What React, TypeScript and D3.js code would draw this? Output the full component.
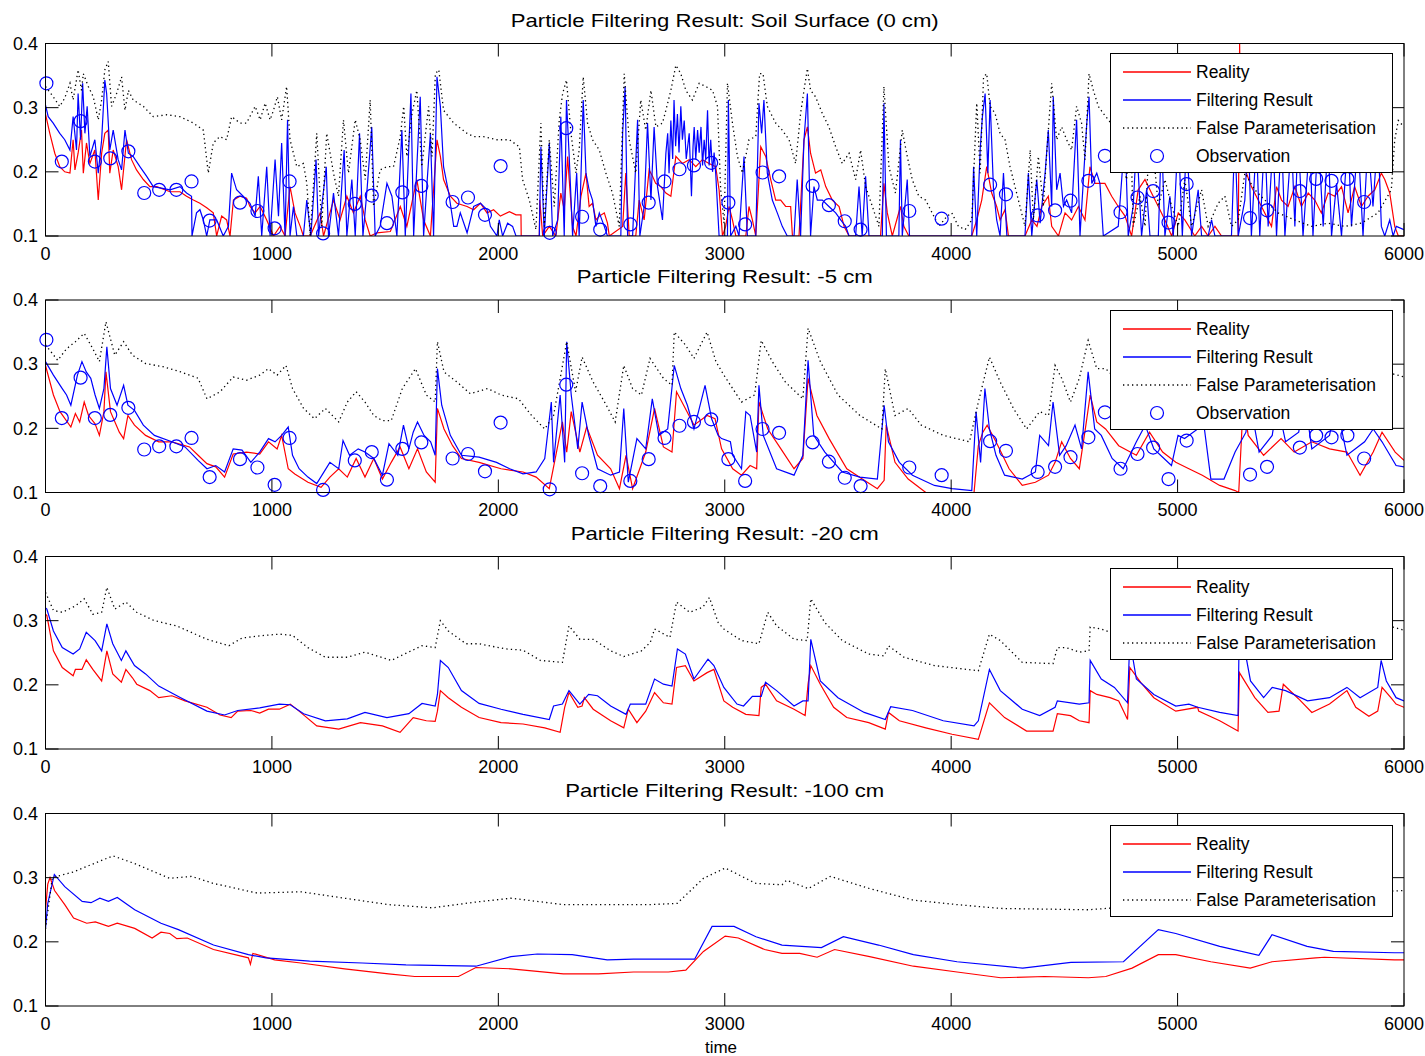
import * as d3 from "d3";
import React from "react";

// time axis and value axis ticks
const xTicks = [0, 1000, 2000, 3000, 4000, 5000, 6000];
const yTicks = [0.1, 0.2, 0.3, 0.4];

// blue circles, same in the 0 cm and -5 cm panels
const observations = [
  [4, 0.338], [72, 0.216], [155, 0.279], [218, 0.216], [286, 0.221], [366, 0.232], [436, 0.167], [502, 0.172],
  [578, 0.172], [645, 0.185], [725, 0.124], [859, 0.152], [936, 0.139], [1012, 0.112], [1078, 0.185], [1226, 0.104],
  [1366, 0.15], [1441, 0.163], [1508, 0.12], [1576, 0.168], [1660, 0.178], [1798, 0.153], [1866, 0.16], [1941, 0.133],
  [2010, 0.209], [2227, 0.105], [2300, 0.268], [2370, 0.13], [2450, 0.11], [2583, 0.118], [2664, 0.152], [2734, 0.185],
  [2800, 0.204], [2864, 0.21], [2940, 0.214], [3016, 0.152], [3090, 0.118], [3167, 0.199], [3240, 0.193], [3388, 0.178],
  [3460, 0.148], [3530, 0.123], [3600, 0.11], [3815, 0.139], [3958, 0.127], [4172, 0.18], [4242, 0.165], [4382, 0.132],
  [4459, 0.14], [4527, 0.155], [4606, 0.186], [4679, 0.225], [4748, 0.137], [4823, 0.16], [4892, 0.17], [4960, 0.121],
  [5040, 0.181], [5320, 0.128], [5395, 0.14], [5540, 0.17], [5612, 0.189], [5680, 0.186], [5750, 0.189], [5824, 0.153],
];

// Soil surface (0 cm)
const surfaceReality = [
  [0, 0.29], [19, 0.26], [41, 0.229], [63, 0.208], [85, 0.2], [108, 0.198], [122, 0.25], [130, 0.203], [144, 0.229],
  [159, 0.265], [167, 0.198], [181, 0.245], [196, 0.213], [218, 0.234], [233, 0.156], [248, 0.229], [262, 0.26],
  [277, 0.265], [284, 0.198], [299, 0.234], [321, 0.208], [336, 0.172], [358, 0.25], [380, 0.219], [402, 0.203],
  [432, 0.188], [461, 0.177], [491, 0.177], [550, 0.169], [594, 0.169], [623, 0.162], [653, 0.156], [682, 0.151],
  [712, 0.144], [741, 0.136], [756, 0.1], [778, 0.131], [800, 0.125], [815, 0.1], [830, 0.156], [859, 0.162],
  [888, 0.159], [903, 0.146], [926, 0.136], [948, 0.146], [977, 0.125], [1007, 0.1], [1036, 0.115], [1058, 0.1],
  [1080, 0.177], [1102, 0.136], [1125, 0.115], [1139, 0.1], [1169, 0.1], [1213, 0.136], [1228, 0.1], [1272, 0.156],
  [1301, 0.125], [1331, 0.162], [1360, 0.136], [1390, 0.162], [1412, 0.125], [1434, 0.1], [1464, 0.105], [1523, 0.107],
  [1567, 0.146], [1596, 0.115], [1640, 0.188], [1670, 0.125], [1700, 0.1], [1729, 0.25], [1744, 0.224], [1758, 0.188],
  [1788, 0.162], [1817, 0.151], [1862, 0.146], [1891, 0.141], [1921, 0.151], [1950, 0.136], [1979, 0.141], [2009, 0.131],
  [2049, 0.138], [2078, 0.133], [2100, 0.133], [2101, 0.1], [2181, 0.1], [2183, 0.156], [2196, 0.1], [2225, 0.115],
  [2254, 0.1], [2276, 0.167], [2291, 0.141], [2306, 0.224], [2313, 0.188], [2328, 0.115], [2343, 0.1], [2365, 0.162],
  [2387, 0.198], [2401, 0.146], [2416, 0.151], [2431, 0.125], [2446, 0.131], [2468, 0.136], [2482, 0.12], [2490, 0.1],
  [2549, 0.115], [2563, 0.198], [2578, 0.1], [2607, 0.1], [2622, 0.156], [2644, 0.125], [2666, 0.203], [2681, 0.193],
  [2695, 0.182], [2718, 0.177], [2740, 0.167], [2762, 0.162], [2784, 0.224], [2813, 0.213], [2843, 0.219], [2872, 0.208],
  [2901, 0.219], [2931, 0.213], [2960, 0.208], [2975, 0.172], [2990, 0.1], [3004, 0.115], [3019, 0.146], [3034, 0.125],
  [3049, 0.1], [3093, 0.1], [3107, 0.146], [3122, 0.125], [3137, 0.1], [3151, 0.188], [3159, 0.239], [3181, 0.224],
  [3203, 0.188], [3225, 0.156], [3247, 0.156], [3269, 0.146], [3291, 0.146], [3299, 0.1], [3328, 0.1], [3350, 0.25],
  [3365, 0.27], [3379, 0.229], [3401, 0.198], [3424, 0.203], [3446, 0.177], [3475, 0.156], [3505, 0.146], [3527, 0.115],
  [3549, 0.1], [3688, 0.1], [3703, 0.182], [3718, 0.136], [3740, 0.1], [3776, 0.146], [3791, 0.115], [3813, 0.1],
  [4091, 0.1], [4113, 0.125], [4135, 0.156], [4157, 0.208], [4179, 0.167], [4201, 0.146], [4216, 0.125], [4238, 0.141],
  [4253, 0.1], [4326, 0.1], [4356, 0.125], [4379, 0.115], [4400, 0.146], [4429, 0.162], [4444, 0.115], [4474, 0.1],
  [4503, 0.136], [4532, 0.125], [4562, 0.146], [4591, 0.125], [4613, 0.208], [4635, 0.182], [4679, 0.182], [4709, 0.162],
  [4738, 0.146], [4768, 0.131], [4797, 0.1], [4826, 0.172], [4856, 0.188], [4885, 0.167], [4915, 0.146], [4944, 0.125],
  [4974, 0.1], [5003, 0.136], [5032, 0.125], [5076, 0.1], [5106, 0.115], [5135, 0.1], [5165, 0.115], [5194, 0.1],
  [5268, 0.1], [5274, 0.4], [5280, 0.24], [5304, 0.198], [5326, 0.177], [5356, 0.156], [5385, 0.136], [5415, 0.115],
  [5437, 0.177], [5459, 0.156], [5488, 0.146], [5518, 0.177], [5547, 0.146], [5577, 0.167], [5606, 0.156], [5635, 0.136],
  [5665, 0.167], [5694, 0.162], [5724, 0.177], [5753, 0.136], [5782, 0.177], [5812, 0.146], [5841, 0.162], [5871, 0.172],
  [5900, 0.198], [5915, 0.188], [5937, 0.167], [5959, 0.115], [5975, 0.1], [6000, 0.1],
];

const surfaceFilter = [
  [0, 0.304], [12, 0.286], [34, 0.276], [63, 0.26], [85, 0.25], [108, 0.234], [122, 0.286], [137, 0.234], [144, 0.322],
  [155, 0.25], [164, 0.338], [174, 0.26], [184, 0.302], [196, 0.224], [218, 0.25], [233, 0.198], [248, 0.25], [262, 0.343],
  [270, 0.322], [284, 0.234], [299, 0.265], [321, 0.219], [336, 0.203], [351, 0.265], [366, 0.229], [387, 0.224],
  [417, 0.208], [447, 0.193], [476, 0.177], [506, 0.175], [550, 0.172], [594, 0.177], [623, 0.167], [645, 0.162],
  [647, 0.1], [667, 0.136], [682, 0.141], [697, 0.125], [712, 0.1], [726, 0.125], [756, 0.125], [785, 0.1], [808, 0.115],
  [822, 0.198], [844, 0.172], [873, 0.162], [903, 0.151], [926, 0.131], [940, 0.193], [955, 0.1], [977, 0.208], [992, 0.1],
  [1014, 0.219], [1029, 0.131], [1043, 0.245], [1058, 0.1], [1069, 0.281], [1080, 0.1], [1095, 0.146], [1110, 0.1],
  [1139, 0.1], [1154, 0.156], [1172, 0.1], [1195, 0.219], [1206, 0.1], [1220, 0.146], [1240, 0.208], [1250, 0.1],
  [1272, 0.167], [1294, 0.1], [1319, 0.234], [1331, 0.1], [1353, 0.188], [1368, 0.1], [1387, 0.26], [1402, 0.1],
  [1419, 0.167], [1441, 0.27], [1456, 0.1], [1478, 0.115], [1508, 0.182], [1530, 0.162], [1552, 0.1], [1574, 0.265],
  [1589, 0.1], [1614, 0.322], [1626, 0.1], [1640, 0.208], [1655, 0.317], [1670, 0.1], [1685, 0.182], [1700, 0.26],
  [1714, 0.1], [1729, 0.348], [1744, 0.302], [1758, 0.208], [1781, 0.167], [1803, 0.115], [1817, 0.115], [1832, 0.136],
  [1862, 0.105], [1891, 0.146], [1921, 0.151], [1950, 0.141], [1965, 0.115], [1994, 0.1], [2004, 0.125], [2019, 0.1],
  [2041, 0.12], [2063, 0.115], [2078, 0.1], [2181, 0.1], [2188, 0.239], [2203, 0.1], [2225, 0.245], [2240, 0.1],
  [2262, 0.125], [2276, 0.286], [2291, 0.1], [2301, 0.312], [2313, 0.224], [2328, 0.1], [2346, 0.198], [2357, 0.1],
  [2375, 0.312], [2387, 0.198], [2401, 0.172], [2416, 0.156], [2431, 0.115], [2446, 0.136], [2468, 0.115], [2482, 0.1],
  [2541, 0.1], [2549, 0.26], [2560, 0.333], [2571, 0.1], [2593, 0.1], [2615, 0.281], [2625, 0.1], [2644, 0.146],
  [2659, 0.276], [2674, 0.156], [2688, 0.27], [2703, 0.177], [2725, 0.125], [2740, 0.229], [2748, 0.26], [2754, 0.198],
  [2762, 0.28], [2770, 0.22], [2776, 0.312], [2783, 0.24], [2791, 0.29], [2798, 0.23], [2806, 0.302], [2813, 0.25],
  [2821, 0.28], [2830, 0.22], [2843, 0.26], [2853, 0.162], [2860, 0.24], [2865, 0.27], [2872, 0.22], [2880, 0.265],
  [2887, 0.23], [2895, 0.27], [2902, 0.21], [2909, 0.25], [2916, 0.22], [2924, 0.296], [2931, 0.21], [2938, 0.25],
  [2946, 0.2], [2953, 0.23], [2960, 0.198], [2975, 0.1], [3012, 0.1], [3016, 0.312], [3026, 0.1], [3049, 0.115],
  [3063, 0.1], [3085, 0.224], [3100, 0.1], [3137, 0.1], [3151, 0.307], [3163, 0.26], [3173, 0.312], [3188, 0.198],
  [3210, 0.156], [3232, 0.136], [3254, 0.115], [3276, 0.1], [3306, 0.1], [3320, 0.188], [3335, 0.1], [3350, 0.25],
  [3365, 0.322], [3379, 0.1], [3394, 0.177], [3409, 0.156], [3431, 0.156], [3460, 0.146], [3490, 0.136], [3512, 0.125],
  [3534, 0.115], [3549, 0.1], [3578, 0.1], [3593, 0.177], [3607, 0.1], [3622, 0.193], [3637, 0.1], [3696, 0.1],
  [3703, 0.307], [3714, 0.1], [3769, 0.1], [3776, 0.25], [3784, 0.1], [3806, 0.188], [3816, 0.1], [4091, 0.1],
  [4099, 0.208], [4113, 0.1], [4128, 0.234], [4138, 0.286], [4150, 0.322], [4162, 0.198], [4172, 0.312], [4187, 0.172],
  [4201, 0.125], [4216, 0.1], [4231, 0.198], [4246, 0.1], [4326, 0.1], [4341, 0.198], [4356, 0.1], [4378, 0.188],
  [4393, 0.12], [4415, 0.198], [4429, 0.265], [4444, 0.146], [4451, 0.317], [4466, 0.172], [4481, 0.198], [4496, 0.146],
  [4510, 0.156], [4532, 0.136], [4554, 0.281], [4569, 0.1], [4584, 0.188], [4599, 0.276], [4609, 0.317], [4621, 0.182],
  [4643, 0.198], [4657, 0.182], [4672, 0.1], [4738, 0.115], [4768, 0.26], [4782, 0.1], [4804, 0.146], [4819, 0.25],
  [4841, 0.1], [4863, 0.172], [4878, 0.1], [4915, 0.1], [4929, 0.26], [4944, 0.1], [4966, 0.162], [4981, 0.1],
  [5003, 0.26], [5021, 0.1], [5040, 0.25], [5062, 0.1], [5091, 0.172], [5106, 0.1], [5135, 0.1], [5150, 0.125],
  [5165, 0.1], [5238, 0.1], [5253, 0.26], [5268, 0.1], [5297, 0.156], [5312, 0.26], [5326, 0.1], [5348, 0.25],
  [5363, 0.1], [5385, 0.26], [5400, 0.115], [5422, 0.25], [5437, 0.1], [5459, 0.26], [5474, 0.1], [5503, 0.25],
  [5518, 0.115], [5532, 0.26], [5554, 0.1], [5584, 0.25], [5598, 0.1], [5621, 0.26], [5643, 0.115], [5665, 0.25],
  [5680, 0.1], [5702, 0.182], [5724, 0.1], [5753, 0.26], [5768, 0.115], [5797, 0.25], [5819, 0.1], [5841, 0.25],
  [5863, 0.146], [5885, 0.26], [5900, 0.115], [5915, 0.1], [5937, 0.125], [5952, 0.1], [5966, 0.115], [6000, 0.11],
];

const surfaceFalse = [
  [0, 0.333], [34, 0.317], [63, 0.302], [85, 0.315], [108, 0.338], [122, 0.312], [144, 0.359], [159, 0.327], [167, 0.353],
  [189, 0.333], [211, 0.317], [233, 0.281], [248, 0.312], [262, 0.359], [277, 0.372], [292, 0.302], [314, 0.322],
  [336, 0.348], [351, 0.296], [366, 0.327], [387, 0.312], [432, 0.302], [476, 0.286], [535, 0.289], [594, 0.286],
  [653, 0.276], [697, 0.265], [719, 0.198], [741, 0.245], [770, 0.255], [800, 0.25], [822, 0.286], [859, 0.276],
  [888, 0.276], [926, 0.302], [948, 0.281], [970, 0.307], [992, 0.281], [1007, 0.296], [1024, 0.317], [1043, 0.281],
  [1065, 0.333], [1080, 0.25], [1110, 0.208], [1139, 0.213], [1154, 0.182], [1169, 0.1], [1198, 0.26], [1220, 0.115],
  [1242, 0.26], [1272, 0.198], [1294, 0.162], [1316, 0.281], [1338, 0.198], [1368, 0.281], [1390, 0.25], [1412, 0.188],
  [1434, 0.312], [1449, 0.146], [1478, 0.203], [1508, 0.208], [1537, 0.208], [1567, 0.255], [1582, 0.302], [1596, 0.224],
  [1619, 0.291], [1640, 0.327], [1662, 0.208], [1692, 0.302], [1707, 0.224], [1722, 0.353], [1737, 0.359], [1758, 0.296],
  [1803, 0.276], [1862, 0.26], [1891, 0.255], [1935, 0.255], [1994, 0.25], [2049, 0.25], [2093, 0.239], [2107, 0.188],
  [2137, 0.156], [2166, 0.11], [2188, 0.276], [2203, 0.115], [2225, 0.25], [2247, 0.146], [2269, 0.281], [2284, 0.322],
  [2301, 0.343], [2321, 0.26], [2343, 0.198], [2357, 0.234], [2375, 0.348], [2394, 0.276], [2416, 0.25], [2446, 0.234],
  [2475, 0.198], [2504, 0.167], [2534, 0.115], [2556, 0.353], [2578, 0.25], [2607, 0.198], [2629, 0.312], [2651, 0.265],
  [2674, 0.327], [2696, 0.27], [2725, 0.276], [2740, 0.296], [2762, 0.327], [2784, 0.366], [2806, 0.353], [2828, 0.327],
  [2857, 0.312], [2887, 0.338], [2916, 0.333], [2946, 0.327], [2968, 0.302], [2982, 0.172], [2997, 0.12], [3012, 0.338],
  [3034, 0.276], [3056, 0.224], [3078, 0.198], [3107, 0.25], [3137, 0.255], [3154, 0.353], [3169, 0.353], [3188, 0.302],
  [3225, 0.276], [3254, 0.265], [3284, 0.25], [3313, 0.213], [3335, 0.291], [3350, 0.327], [3365, 0.361], [3379, 0.327],
  [3401, 0.317], [3431, 0.291], [3460, 0.27], [3490, 0.239], [3519, 0.213], [3549, 0.229], [3578, 0.188], [3600, 0.234],
  [3622, 0.177], [3652, 0.146], [3681, 0.115], [3703, 0.333], [3725, 0.208], [3754, 0.167], [3784, 0.265], [3806, 0.224],
  [3828, 0.188], [3857, 0.162], [3887, 0.156], [3916, 0.136], [3946, 0.115], [3982, 0.131], [4003, 0.136], [4032, 0.115],
  [4062, 0.11], [4091, 0.125], [4113, 0.307], [4128, 0.198], [4143, 0.348], [4157, 0.353], [4172, 0.302], [4194, 0.291],
  [4216, 0.26], [4238, 0.25], [4260, 0.208], [4282, 0.177], [4304, 0.146], [4326, 0.115], [4349, 0.234], [4363, 0.125],
  [4385, 0.224], [4407, 0.146], [4422, 0.229], [4444, 0.338], [4466, 0.25], [4488, 0.27], [4510, 0.25], [4532, 0.234],
  [4554, 0.302], [4576, 0.276], [4591, 0.219], [4609, 0.353], [4628, 0.327], [4650, 0.302], [4672, 0.291], [4694, 0.281],
  [4720, 0.27], [4775, 0.188], [4790, 0.3], [4804, 0.115], [4834, 0.162], [4856, 0.115], [4880, 0.28], [4915, 0.146],
  [4944, 0.188], [4974, 0.146], [5003, 0.115], [5032, 0.188], [5062, 0.115], [5106, 0.172], [5135, 0.115], [5179, 0.151],
  [5209, 0.162], [5238, 0.115], [5268, 0.125], [5297, 0.198], [5341, 0.172], [5385, 0.156], [5444, 0.136], [5518, 0.125],
  [5591, 0.115], [5665, 0.12], [5738, 0.115], [5812, 0.12], [5885, 0.136], [5944, 0.172], [5959, 0.25], [5975, 0.28],
  [6000, 0.27],
];

// -5 cm
const cm5Reality = [
  [0, 0.298], [35, 0.252], [64, 0.226], [112, 0.202], [132, 0.223], [151, 0.21], [171, 0.241], [190, 0.22], [219, 0.207],
  [238, 0.189], [258, 0.226], [267, 0.288], [287, 0.226], [326, 0.194], [345, 0.184], [364, 0.22], [393, 0.205],
  [442, 0.189], [500, 0.179], [558, 0.179], [636, 0.171], [674, 0.158], [713, 0.145], [752, 0.14], [791, 0.124],
  [829, 0.16], [888, 0.163], [946, 0.16], [985, 0.179], [1023, 0.168], [1043, 0.189], [1072, 0.137], [1101, 0.129],
  [1159, 0.116], [1217, 0.108], [1256, 0.124], [1295, 0.137], [1333, 0.124], [1372, 0.153], [1411, 0.124], [1450, 0.153],
  [1488, 0.121], [1527, 0.147], [1566, 0.171], [1605, 0.137], [1643, 0.168], [1682, 0.132], [1721, 0.116], [1731, 0.231],
  [1760, 0.199], [1798, 0.173], [1837, 0.153], [1915, 0.147], [2012, 0.137], [2109, 0.132], [2167, 0.124], [2225, 0.106],
  [2254, 0.158], [2283, 0.21], [2302, 0.163], [2322, 0.226], [2360, 0.163], [2390, 0.202], [2438, 0.158], [2496, 0.137],
  [2535, 0.106], [2564, 0.158], [2593, 0.106], [2651, 0.163], [2690, 0.231], [2729, 0.171], [2767, 0.163], [2787, 0.257],
  [2826, 0.231], [2864, 0.205], [2922, 0.22], [2957, 0.215], [2986, 0.168], [3035, 0.137], [3074, 0.127], [3112, 0.142],
  [3141, 0.137], [3151, 0.241], [3190, 0.199], [3248, 0.168], [3306, 0.137], [3345, 0.153], [3368, 0.278], [3407, 0.22],
  [3461, 0.184], [3539, 0.137], [3616, 0.119], [3674, 0.106], [3704, 0.119], [3713, 0.205], [3752, 0.147], [3810, 0.121],
  [3888, 0.1], [4101, 0.1], [4120, 0.173], [4140, 0.194], [4159, 0.205], [4198, 0.179], [4256, 0.137], [4314, 0.111],
  [4372, 0.116], [4430, 0.127], [4459, 0.147], [4488, 0.179], [4527, 0.153], [4566, 0.137], [4595, 0.205], [4614, 0.252],
  [4643, 0.21], [4682, 0.199], [4740, 0.173], [4818, 0.158], [4876, 0.194], [4934, 0.163], [4992, 0.147], [5050, 0.137],
  [5109, 0.127], [5186, 0.111], [5254, 0.103], [5270, 0.1], [5290, 0.24], [5312, 0.189], [5380, 0.158], [5457, 0.184],
  [5515, 0.163], [5593, 0.179], [5671, 0.168], [5748, 0.163], [5806, 0.127], [5864, 0.163], [5903, 0.194], [5961, 0.163],
  [6000, 0.15],
];

const cm5Filter = [
  [0, 0.304], [35, 0.283], [74, 0.262], [93, 0.252], [112, 0.236], [141, 0.283], [161, 0.304], [180, 0.288], [200, 0.278],
  [219, 0.252], [238, 0.231], [258, 0.262], [271, 0.327], [287, 0.262], [316, 0.236], [345, 0.267], [364, 0.236],
  [393, 0.228], [432, 0.205], [481, 0.189], [558, 0.179], [616, 0.171], [674, 0.15], [713, 0.137], [752, 0.142],
  [791, 0.132], [829, 0.168], [868, 0.166], [907, 0.147], [946, 0.163], [985, 0.184], [1014, 0.179], [1043, 0.189],
  [1072, 0.202], [1091, 0.158], [1120, 0.137], [1159, 0.124], [1198, 0.114], [1256, 0.147], [1295, 0.137], [1314, 0.181],
  [1343, 0.158], [1381, 0.168], [1411, 0.163], [1450, 0.153], [1488, 0.127], [1517, 0.176], [1556, 0.158], [1581, 0.205],
  [1605, 0.168], [1624, 0.194], [1643, 0.21], [1672, 0.189], [1701, 0.179], [1721, 0.158], [1731, 0.293], [1750, 0.236],
  [1788, 0.189], [1837, 0.158], [1915, 0.155], [1992, 0.147], [2050, 0.137], [2109, 0.129], [2167, 0.132], [2205, 0.153],
  [2234, 0.241], [2244, 0.147], [2273, 0.252], [2293, 0.147], [2302, 0.335], [2322, 0.252], [2351, 0.168], [2370, 0.241],
  [2399, 0.189], [2438, 0.137], [2496, 0.127], [2535, 0.132], [2554, 0.231], [2574, 0.116], [2612, 0.184], [2651, 0.168],
  [2680, 0.246], [2709, 0.189], [2748, 0.199], [2777, 0.298], [2806, 0.262], [2835, 0.236], [2864, 0.199], [2884, 0.226],
  [2913, 0.267], [2942, 0.215], [2971, 0.189], [2986, 0.184], [3025, 0.179], [3035, 0.158], [3074, 0.137], [3093, 0.226],
  [3112, 0.22], [3141, 0.163], [3151, 0.267], [3170, 0.189], [3229, 0.137], [3306, 0.127], [3345, 0.158], [3368, 0.306],
  [3393, 0.189], [3442, 0.163], [3519, 0.132], [3597, 0.124], [3674, 0.121], [3704, 0.236], [3723, 0.179], [3771, 0.147],
  [3829, 0.127], [3926, 0.111], [4004, 0.106], [4091, 0.103], [4110, 0.226], [4130, 0.147], [4149, 0.262], [4169, 0.199],
  [4198, 0.158], [4236, 0.127], [4314, 0.121], [4372, 0.132], [4391, 0.189], [4430, 0.173], [4450, 0.241], [4479, 0.158],
  [4508, 0.173], [4547, 0.205], [4576, 0.168], [4605, 0.288], [4634, 0.199], [4663, 0.189], [4711, 0.153], [4760, 0.137],
  [4818, 0.179], [4857, 0.205], [4895, 0.168], [4973, 0.142], [5002, 0.189], [5031, 0.184], [5089, 0.199], [5100, 0.25],
  [5147, 0.121], [5205, 0.121], [5254, 0.163], [5302, 0.194], [5315, 0.25], [5360, 0.163], [5418, 0.189], [5440, 0.24],
  [5477, 0.179], [5535, 0.194], [5560, 0.25], [5593, 0.168], [5671, 0.189], [5700, 0.24], [5748, 0.158], [5826, 0.179],
  [5864, 0.199], [5903, 0.179], [5965, 0.142], [6000, 0.14],
];

const cm5False = [
  [0, 0.33], [54, 0.306], [93, 0.324], [132, 0.335], [171, 0.348], [209, 0.324], [238, 0.304], [267, 0.366], [306, 0.314],
  [345, 0.335], [384, 0.314], [442, 0.301], [519, 0.296], [597, 0.288], [674, 0.278], [713, 0.246], [771, 0.257],
  [829, 0.28], [888, 0.275], [946, 0.283], [985, 0.293], [1023, 0.283], [1062, 0.298], [1091, 0.262], [1140, 0.231],
  [1188, 0.215], [1236, 0.231], [1295, 0.21], [1333, 0.241], [1372, 0.257], [1411, 0.241], [1450, 0.22], [1488, 0.212],
  [1527, 0.212], [1576, 0.262], [1634, 0.293], [1682, 0.252], [1721, 0.241], [1731, 0.335], [1760, 0.288], [1818, 0.272],
  [1876, 0.254], [1953, 0.262], [2012, 0.252], [2089, 0.246], [2147, 0.22], [2205, 0.199], [2244, 0.22], [2302, 0.335],
  [2341, 0.257], [2370, 0.311], [2419, 0.272], [2477, 0.236], [2516, 0.21], [2554, 0.298], [2593, 0.262], [2632, 0.252],
  [2670, 0.309], [2729, 0.278], [2767, 0.267], [2777, 0.35], [2826, 0.33], [2864, 0.309], [2922, 0.35], [2961, 0.304],
  [2996, 0.283], [3074, 0.241], [3132, 0.252], [3161, 0.337], [3210, 0.304], [3268, 0.272], [3345, 0.246], [3368, 0.356],
  [3422, 0.304], [3500, 0.252], [3597, 0.22], [3694, 0.199], [3709, 0.293], [3752, 0.22], [3810, 0.231], [3868, 0.205],
  [3965, 0.189], [4081, 0.179], [4120, 0.241], [4169, 0.311], [4217, 0.272], [4275, 0.231], [4333, 0.199], [4391, 0.226],
  [4430, 0.22], [4459, 0.298], [4488, 0.278], [4527, 0.241], [4566, 0.278], [4605, 0.337], [4643, 0.293], [4682, 0.293],
  [4750, 0.27], [4850, 0.25], [4950, 0.24], [5050, 0.3], [5150, 0.26], [5270, 0.24], [5300, 0.33], [5450, 0.3],
  [5600, 0.29], [5750, 0.28], [5900, 0.29], [6000, 0.28],
];

// -20 cm
const cm20Reality = [
  [0, 0.31], [6, 0.308], [35, 0.253], [74, 0.227], [122, 0.214], [132, 0.224], [161, 0.224], [180, 0.239], [209, 0.224],
  [248, 0.206], [271, 0.253], [297, 0.217], [335, 0.204], [355, 0.224], [384, 0.211], [403, 0.201], [461, 0.191],
  [500, 0.18], [558, 0.183], [616, 0.175], [713, 0.165], [771, 0.153], [820, 0.149], [849, 0.159], [907, 0.16],
  [946, 0.156], [985, 0.162], [1033, 0.162], [1081, 0.17], [1120, 0.159], [1198, 0.136], [1295, 0.131], [1391, 0.141],
  [1488, 0.136], [1566, 0.126], [1624, 0.149], [1682, 0.144], [1721, 0.143], [1731, 0.159], [1744, 0.191], [1779, 0.18],
  [1837, 0.165], [1915, 0.149], [2012, 0.141], [2109, 0.139], [2205, 0.133], [2273, 0.126], [2293, 0.165], [2312, 0.188],
  [2351, 0.165], [2370, 0.167], [2380, 0.18], [2419, 0.162], [2496, 0.144], [2554, 0.133], [2574, 0.162], [2612, 0.141],
  [2651, 0.159], [2690, 0.188], [2729, 0.172], [2767, 0.17], [2787, 0.227], [2826, 0.23], [2864, 0.206], [2922, 0.219],
  [2952, 0.224], [2996, 0.175], [3035, 0.165], [3093, 0.154], [3151, 0.152], [3161, 0.196], [3180, 0.201], [3229, 0.175],
  [3306, 0.162], [3355, 0.152], [3368, 0.201], [3380, 0.23], [3422, 0.201], [3481, 0.165], [3539, 0.149], [3636, 0.141],
  [3709, 0.131], [3723, 0.157], [3771, 0.144], [3888, 0.133], [4004, 0.123], [4120, 0.115], [4169, 0.172], [4236, 0.149],
  [4333, 0.128], [4450, 0.128], [4469, 0.155], [4527, 0.152], [4566, 0.144], [4609, 0.141], [4614, 0.191], [4643, 0.185],
  [4702, 0.18], [4740, 0.175], [4779, 0.146], [4789, 0.227], [4837, 0.204], [4895, 0.18], [4992, 0.159], [5089, 0.165],
  [5093, 0.159], [5186, 0.144], [5267, 0.128], [5273, 0.219], [5341, 0.18], [5399, 0.157], [5448, 0.159], [5467, 0.201],
  [5535, 0.178], [5593, 0.157], [5671, 0.17], [5748, 0.191], [5787, 0.165], [5845, 0.151], [5884, 0.159], [5903, 0.196],
  [5942, 0.18], [5965, 0.17], [6000, 0.165],
];

const cm20Filter = [
  [0, 0.32], [6, 0.318], [35, 0.284], [74, 0.258], [122, 0.248], [151, 0.256], [180, 0.282], [219, 0.269], [248, 0.253],
  [271, 0.295], [297, 0.264], [335, 0.238], [355, 0.253], [393, 0.23], [442, 0.217], [500, 0.198], [597, 0.18],
  [713, 0.159], [791, 0.153], [849, 0.16], [946, 0.164], [1033, 0.17], [1081, 0.169], [1140, 0.155], [1236, 0.144],
  [1333, 0.147], [1411, 0.157], [1508, 0.149], [1605, 0.155], [1663, 0.171], [1721, 0.167], [1731, 0.185], [1744, 0.238],
  [1779, 0.227], [1837, 0.191], [1915, 0.171], [2012, 0.162], [2109, 0.154], [2225, 0.146], [2244, 0.167], [2283, 0.17],
  [2312, 0.191], [2360, 0.17], [2399, 0.185], [2438, 0.183], [2496, 0.167], [2564, 0.154], [2583, 0.17], [2651, 0.17],
  [2690, 0.209], [2729, 0.201], [2767, 0.198], [2791, 0.256], [2826, 0.248], [2864, 0.209], [2926, 0.24], [2952, 0.23],
  [2996, 0.196], [3054, 0.17], [3083, 0.167], [3122, 0.182], [3161, 0.182], [3180, 0.204], [3229, 0.191], [3306, 0.167],
  [3345, 0.175], [3368, 0.175], [3380, 0.271], [3422, 0.206], [3500, 0.18], [3616, 0.157], [3709, 0.146], [3733, 0.166],
  [3829, 0.16], [3965, 0.144], [4101, 0.136], [4120, 0.144], [4169, 0.224], [4217, 0.191], [4314, 0.162], [4391, 0.152],
  [4459, 0.165], [4469, 0.175], [4566, 0.17], [4609, 0.172], [4614, 0.238], [4663, 0.209], [4721, 0.196], [4779, 0.172],
  [4789, 0.27], [4818, 0.209], [4895, 0.185], [4992, 0.167], [5050, 0.17], [5089, 0.165], [5186, 0.157], [5267, 0.152],
  [5273, 0.3], [5322, 0.206], [5380, 0.18], [5418, 0.196], [5477, 0.191], [5574, 0.175], [5671, 0.18], [5748, 0.196],
  [5806, 0.18], [5884, 0.196], [5899, 0.238], [5922, 0.206], [5965, 0.18], [6000, 0.175],
];

const cm20False = [
  [0, 0.344], [35, 0.316], [74, 0.313], [132, 0.323], [171, 0.334], [209, 0.31], [248, 0.313], [271, 0.352], [306, 0.318],
  [355, 0.329], [403, 0.313], [481, 0.3], [578, 0.292], [713, 0.271], [810, 0.261], [868, 0.273], [965, 0.277],
  [1033, 0.279], [1091, 0.277], [1159, 0.258], [1236, 0.243], [1333, 0.243], [1411, 0.251], [1527, 0.238], [1585, 0.248],
  [1663, 0.261], [1721, 0.258], [1744, 0.3], [1779, 0.284], [1857, 0.264], [1915, 0.264], [2031, 0.256], [2109, 0.254],
  [2186, 0.238], [2283, 0.235], [2312, 0.292], [2360, 0.271], [2419, 0.271], [2496, 0.253], [2554, 0.244], [2632, 0.253],
  [2671, 0.266], [2690, 0.287], [2758, 0.274], [2787, 0.329], [2845, 0.313], [2903, 0.321], [2932, 0.336], [2971, 0.297],
  [2996, 0.287], [3074, 0.269], [3151, 0.264], [3190, 0.313], [3229, 0.292], [3306, 0.271], [3364, 0.269], [3380, 0.334],
  [3442, 0.297], [3519, 0.269], [3636, 0.248], [3704, 0.245], [3723, 0.261], [3791, 0.243], [3926, 0.23], [4120, 0.222],
  [4169, 0.279], [4217, 0.269], [4314, 0.235], [4450, 0.233], [4469, 0.258], [4508, 0.258], [4566, 0.251], [4609, 0.253],
  [4614, 0.29], [4663, 0.287], [4702, 0.282], [4789, 0.33], [5000, 0.29], [5267, 0.26], [5273, 0.34], [5500, 0.3],
  [5900, 0.29], [5952, 0.29], [6000, 0.285],
];

// -100 cm
const cm100Reality = [
  [0, 0.25], [10, 0.29], [20, 0.3], [40, 0.28], [85, 0.258], [124, 0.237], [182, 0.229], [220, 0.231], [278, 0.224],
  [317, 0.229], [394, 0.221], [471, 0.206], [510, 0.215], [549, 0.213], [580, 0.205], [626, 0.206], [742, 0.188],
  [896, 0.175], [905, 0.165], [916, 0.182], [1012, 0.172], [1128, 0.167], [1321, 0.158], [1515, 0.15], [1631, 0.146],
  [1824, 0.146], [1901, 0.16], [2056, 0.158], [2287, 0.15], [2442, 0.15], [2597, 0.153], [2751, 0.153], [2828, 0.156],
  [2906, 0.185], [3002, 0.209], [3060, 0.206], [3176, 0.188], [3253, 0.182], [3331, 0.182], [3408, 0.176], [3485, 0.188],
  [3640, 0.177], [3833, 0.162], [4026, 0.153], [4219, 0.144], [4413, 0.146], [4606, 0.144], [4683, 0.146], [4799, 0.159],
  [4915, 0.18], [4992, 0.18], [5147, 0.169], [5321, 0.159], [5417, 0.169], [5610, 0.175], [5649, 0.176], [5958, 0.172],
  [6000, 0.172],
];

const cm100Filter = [
  [0, 0.221], [10, 0.26], [39, 0.305], [85, 0.286], [162, 0.263], [201, 0.261], [240, 0.268], [278, 0.263], [317, 0.269],
  [394, 0.25], [510, 0.229], [587, 0.219], [742, 0.195], [896, 0.18], [974, 0.175], [1167, 0.17], [1399, 0.167],
  [1592, 0.164], [1901, 0.162], [2056, 0.177], [2172, 0.181], [2326, 0.18], [2481, 0.172], [2597, 0.173], [2867, 0.173],
  [2944, 0.224], [3041, 0.224], [3138, 0.208], [3253, 0.195], [3427, 0.191], [3524, 0.208], [3679, 0.195], [3833, 0.18],
  [4026, 0.169], [4316, 0.159], [4529, 0.168], [4761, 0.169], [4915, 0.219], [4992, 0.213], [5186, 0.193], [5359, 0.179],
  [5417, 0.211], [5572, 0.193], [5688, 0.185], [5958, 0.183], [6000, 0.183],
];

const cm100False = [
  [0, 0.22], [30, 0.3], [124, 0.309], [200, 0.32], [298, 0.334], [394, 0.322], [549, 0.299], [645, 0.302], [742, 0.291],
  [935, 0.276], [1128, 0.278], [1321, 0.268], [1515, 0.258], [1708, 0.253], [1901, 0.262], [2056, 0.268], [2287, 0.258],
  [2674, 0.258], [2790, 0.26], [2906, 0.299], [3002, 0.315], [3138, 0.291], [3253, 0.289], [3273, 0.296], [3369, 0.283],
  [3466, 0.302], [3640, 0.283], [3833, 0.265], [4026, 0.258], [4219, 0.252], [4606, 0.25], [4800, 0.255], [5100, 0.26],
  [5400, 0.27], [5700, 0.275], [6000, 0.28],
];

const panels = [
  { title: "Particle Filtering Result: Soil Surface (0 cm)", titleW: 428, top: 43.5, reality: surfaceReality, filter: surfaceFilter, falseP: surfaceFalse, obs: true },
  { title: "Particle Filtering Result: -5 cm", titleW: 296, top: 300, reality: cm5Reality, filter: cm5Filter, falseP: cm5False, obs: true },
  { title: "Particle Filtering Result: -20 cm", titleW: 308, top: 556.5, reality: cm20Reality, filter: cm20Filter, falseP: cm20False, obs: false },
  { title: "Particle Filtering Result: -100 cm", titleW: 319, top: 813.5, reality: cm100Reality, filter: cm100Filter, falseP: cm100False, obs: false },
];

const font = "'Liberation Sans', Arial, Helvetica, sans-serif";
const left = 45.5;
const right = 1404;
const plotH = 192.5;
const tickLen = 13;
const RED = "rgb(255,0,0)";
const BLUE = "rgb(0,0,255)";

const x = d3.scaleLinear().domain([0, 6000]).range([left, right]);

function Panel({ p, idx }) {
  const y = d3.scaleLinear().domain([0.1, 0.4]).range([p.top + plotH, p.top]);
  const line = d3.line().x(d => x(d[0])).y(d => y(d[1]));
  const bottom = p.top + plotH;
  const legendTop = Math.round(p.top + (p.obs ? 9.5 : 11.5)) + 0.5;
  const entries = [
    { label: "Reality", kind: "red" },
    { label: "Filtering Result", kind: "blue" },
    { label: "False Parameterisation", kind: "dot" },
  ];
  if (p.obs) entries.push({ label: "Observation", kind: "obs" });
  const legendH = 35 + 28 * (entries.length - 1);
  const clipId = `clip${idx}`;
  return (
    <g>
      <defs>
        <clipPath id={clipId}>
          <rect x={left} y={p.top} width={right - left} height={plotH} />
        </clipPath>
      </defs>
      <text x={(left + right) / 2} y={p.top - 17} textAnchor="middle" fontSize={19} fontFamily={font}
        textLength={p.titleW} lengthAdjust="spacingAndGlyphs" fill="#000">{p.title}</text>
      <g clipPath={`url(#${clipId})`}>
        <path d={line(p.reality)} fill="none" stroke={RED} strokeWidth={1.2} />
        <path d={line(p.filter)} fill="none" stroke={BLUE} strokeWidth={1.2} />
        <path d={line(p.falseP)} fill="none" stroke="#000" strokeWidth={1.3} strokeDasharray="1.3 3.2" />
      </g>
      {p.obs && observations.map((d, i) => (
        <circle key={i} cx={x(d[0])} cy={y(d[1])} r={6.5} fill="none" stroke={BLUE} strokeWidth={1.2} />
      ))}
      <rect x={left} y={p.top} width={right - left} height={plotH} fill="none" stroke="#000" strokeWidth={1} />
      {xTicks.map(t => (
        <g key={"x" + t}>
          <line x1={x(t)} x2={x(t)} y1={p.top} y2={p.top + tickLen} stroke="#000" />
          <line x1={x(t)} x2={x(t)} y1={bottom} y2={bottom - tickLen} stroke="#000" />
          <text x={x(t)} y={bottom + 23.5} textAnchor="middle" fontSize={18} fontFamily={font} fill="#000">{t}</text>
        </g>
      ))}
      {yTicks.map(t => (
        <g key={"y" + t}>
          <line x1={left} x2={left + tickLen} y1={y(t)} y2={y(t)} stroke="#000" />
          <line x1={right} x2={right - tickLen} y1={y(t)} y2={y(t)} stroke="#000" />
          <text x={38} y={y(t)} dy="0.35em" textAnchor="end" fontSize={18} fontFamily={font} fill="#000">{d3.format(".1f")(t)}</text>
        </g>
      ))}
      <rect x={1110.5} y={legendTop} width={282} height={legendH} fill="#fff" stroke="#000" strokeWidth={1} />
      {entries.map((e, i) => {
        const cy = legendTop + 18.5 + 28 * i;
        return (
          <g key={e.label}>
            {e.kind === "red" && <rect x={1123} y={cy - 0.75} width={68} height={1.5} fill={RED} />}
            {e.kind === "blue" && <rect x={1123} y={cy - 0.75} width={68} height={1.5} fill={BLUE} />}
            {e.kind === "dot" && <line x1={1123} x2={1191} y1={cy} y2={cy} stroke="#000" strokeWidth={1.3} strokeDasharray="1.3 3.2" />}
            {e.kind === "obs" && <circle cx={1157} cy={cy} r={6.5} fill="none" stroke={BLUE} strokeWidth={1.2} />}
            <text x={1196} y={cy} dy="0.35em" fontSize={17.5} fontFamily={font} fill="#000">{e.label}</text>
          </g>
        );
      })}
    </g>
  );
}

export default function App() {
  return (
    <svg width={1425} height={1056} style={{ position: "absolute", left: 0, top: 0, background: "#fff" }}>
      <rect x={0} y={0} width={1425} height={1056} fill="#fff" />
      {panels.map((p, i) => <Panel key={i} p={p} idx={i} />)}
      <text x={721} y={1053} textAnchor="middle" fontSize={17} fontFamily={font} fill="#000">time</text>
    </svg>
  );
}
